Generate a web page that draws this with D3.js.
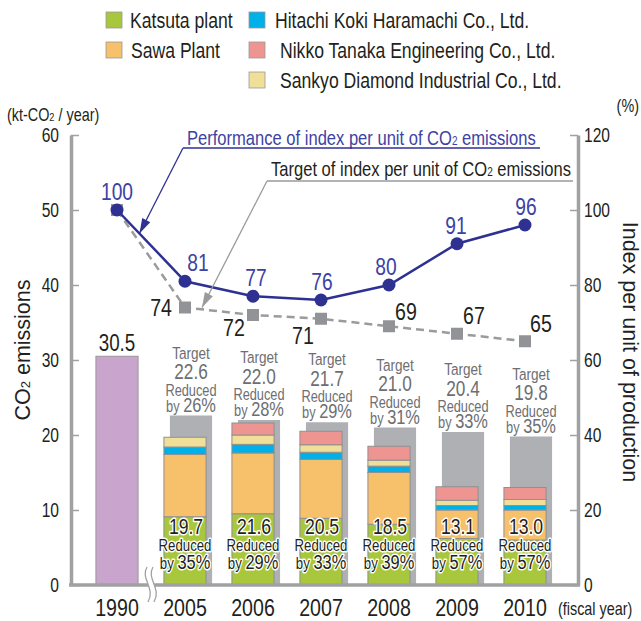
<!DOCTYPE html>
<html><head><meta charset="utf-8">
<script src="https://cdn.jsdelivr.net/npm/d3@7"></script>
<style>
body{margin:0;background:#fff;}
svg{display:block;font-family:"Liberation Sans",Arial,sans-serif;}
</style></head><body>
<svg id="c" width="641" height="621"></svg>
<script>
// ---------- data ----------
const years = ["1990","2005","2006","2007","2008","2009","2010"];
const stackYears = ["2005","2006","2007","2008","2009","2010"];
const base1990 = 30.5;
const katsuta = [9.1, 9.5, 8.9, 8.1, 6.2, 6.0];
const sawa    = [8.3, 8.1, 7.85, 6.9, 3.8, 4.0];
const hitachi = [1.0, 1.15, 0.95, 0.85, 0.6, 0.6];
const sankyo  = [1.3, 1.25, 1.0, 0.8, 0.7, 0.8];
const nikko   = [0, 1.6, 1.8, 1.85, 1.8, 1.6];
const totals  = [19.7, 21.6, 20.5, 18.5, 13.1, 13.0];
const reducedPct = [35, 29, 33, 39, 57, 57];
const targets = [22.6, 22.0, 21.7, 21.0, 20.4, 19.8];
const targetPct = [26, 28, 29, 31, 33, 35];
const perfIndex = [100, 81, 77, 76, 80, 91, 96];
const targetIndex = [100, 74, 72, 71, 69, 67, 65];
const leftTicks = [0, 10, 20, 30, 40, 50, 60];
const rightTicks = [0, 20, 40, 60, 80, 100, 120];
const seriesNames = ["Katsuta plant","Sawa Plant","Hitachi Koki Haramachi Co., Ltd.","Sankyo Diamond Industrial Co., Ltd.","Nikko Tanaka Engineering Co., Ltd."];
const seriesKeys = ["katsuta","sawa","hitachi","sankyo","nikko"];

// ---------- styles ----------
const SX = 0.8; // condensed look
const colors = {katsuta:"#a8c73c", sawa:"#f7c06b", hitachi:"#00b0e8", sankyo:"#efdf98", nikko:"#ee9591"};
const purple = "#c9a4cd", grayBar = "#aeb0b3", axisCol = "#a0a1a3";
const blueLine = "#2e3192", blueText = "#3d42a3", sqCol = "#929396", tgtText = "#6d6e71", ink = "#231f20";

const svg = d3.select("#c");
const x = d3.scaleBand().domain(years).range([83, 559]).paddingInner(0.38).paddingOuter(0.19);
const bw = x.bandwidth();
const cx = d => x(d) + bw / 2;
const yL = d3.scaleLinear().domain([0, 60]).range([585, 135]);
const yR = d3.scaleLinear().domain([0, 120]).range([585, 135]);

function ctext(parent, px, py, size, anchor) {
  return parent.append("text").attr("transform", `translate(${px},${py}) scale(${SX},1)`)
    .attr("font-size", size).attr("text-anchor", anchor || "start");
}
function addCO2(t, pre, post, subSize) {
  t.append("tspan").text(pre);
  t.append("tspan").attr("font-size", subSize).text("2");
  t.append("tspan").text(post);
  return t;
}

// ---------- legend ----------
const legendItems = [
  {k:"katsuta", col:0, row:0}, {k:"sawa", col:0, row:1},
  {k:"hitachi", col:1, row:0}, {k:"nikko", col:1, row:1}, {k:"sankyo", col:1, row:2}
];
const colX = [106, 249], rowY = [12, 42, 72], txtOff = [[24, 25, 0], [26, 31, 31]];
const lg = svg.append("g").attr("class","legend");
legendItems.forEach(it => {
  const nm = seriesNames[seriesKeys.indexOf(it.k)];
  lg.append("rect").attr("x", colX[it.col]).attr("y", rowY[it.row]).attr("width", 16).attr("height", 16)
    .attr("fill", colors[it.k]).attr("stroke", "#9a9a9a").attr("stroke-width", 0.8);
  ctext(lg, colX[it.col] + txtOff[it.col][it.row], rowY[it.row] + 15.5, 22).attr("fill", ink).text(nm);
});

// ---------- unit labels ----------
addCO2(ctext(svg, 7, 121, 18).attr("fill", ink), "(kt-CO", " / year)", 11.5);
ctext(svg, 639, 112, 18, "end").attr("fill", ink).text("(%)");

// ---------- target (gray) bars ----------
svg.append("g").selectAll("rect").data(stackYears).join("rect")
  .attr("x", d => x(d) + 6).attr("width", bw)
  .attr("y", (d, i) => yL(targets[i])).attr("height", (d, i) => yL(0) - yL(targets[i]))
  .attr("fill", grayBar);

// ---------- 1990 bar ----------
svg.append("rect").attr("x", x("1990")).attr("width", bw).attr("y", yL(base1990)).attr("height", yL(0) - yL(base1990))
  .attr("fill", purple).attr("stroke", "#999").attr("stroke-width", 1);
ctext(svg, cx("1990"), yL(base1990) - 5, 23.5, "middle").attr("fill", ink).text(base1990.toFixed(1));

// ---------- stacked bars ----------
const table = stackYears.map((y, i) => ({year: y, katsuta: katsuta[i], sawa: sawa[i], hitachi: hitachi[i], sankyo: sankyo[i], nikko: nikko[i]}));
const stacked = d3.stack().keys(seriesKeys)(table);
svg.append("g").selectAll("g").data(stacked).join("g").attr("fill", s => colors[s.key])
  .selectAll("rect").data(s => s.filter(d => d[1] - d[0] > 0)).join("rect")
  .attr("x", d => x(d.data.year)).attr("width", bw)
  .attr("y", d => yL(d[1])).attr("height", d => yL(d[0]) - yL(d[1]))
  .attr("stroke", "#8f9092").attr("stroke-width", 1);

// inner labels
const inner = svg.append("g").attr("fill", ink).attr("stroke", "#fff").attr("stroke-width", 3)
  .attr("paint-order", "stroke").attr("stroke-linejoin", "round");
stackYears.forEach((y, i) => {
  ctext(inner, cx(y) + 1, 534, 22, "middle").text(totals[i].toFixed(1));
  ctext(inner, cx(y), 550.5, 16.5, "middle").text("Reduced");
  const t = ctext(inner, cx(y), 568.5, 16.5, "middle");
  t.append("tspan").text("by ");
  t.append("tspan").attr("font-size", 20.5).text(reducedPct[i] + "%");
});

// target labels
const tg = svg.append("g").attr("fill", tgtText);
stackYears.forEach((y, i) => {
  const top = yL(targets[i]);
  const c = x(y) + 6 + bw / 2;
  ctext(tg, c, top - 57, 17, "middle").text("Target");
  ctext(tg, c, top - 36.5, 21.5, "middle").text(targets[i].toFixed(1));
  ctext(tg, c, top - 20, 16, "middle").text("Reduced");
  const t = ctext(tg, c, top - 4, 16, "middle");
  t.append("tspan").text("by ");
  t.append("tspan").attr("font-size", 20.5).text(targetPct[i] + "%");
});

// ---------- axes ----------
const axL = svg.append("g").attr("transform", "translate(71,0)")
  .call(d3.axisLeft(yL).tickValues(leftTicks).tickSize(-8).tickSizeOuter(0).tickPadding(12));
const axR = svg.append("g").attr("transform", "translate(578,0)")
  .call(d3.axisRight(yR).tickValues(rightTicks).tickSize(-8).tickSizeOuter(0).tickPadding(6));
[axL, axR].forEach(a => {
  a.select(".domain").attr("stroke", axisCol).attr("stroke-width", 3.5);
  a.selectAll(".tick line").attr("stroke", axisCol).attr("stroke-width", 1.5);
  a.selectAll(".tick text").attr("font-size", 19.5).attr("fill", ink).attr("font-family", null)
    .attr("x", function() { return +d3.select(this).attr("x") / SX; })
    .attr("transform", `scale(${SX},1)`);
});
svg.append("line").attr("x1", 69).attr("x2", 580).attr("y1", yL(0)).attr("y2", yL(0))
  .attr("stroke", axisCol).attr("stroke-width", 3.5);
const axB = svg.append("g").attr("transform", `translate(0,${yL(0)})`)
  .call(d3.axisBottom(x).tickSize(0).tickPadding(14));
axB.select(".domain").remove();
axB.selectAll(".tick text").attr("font-size", 24.5).attr("fill", ink).attr("font-family", null)
  .attr("transform", `scale(${SX},1)`);
ctext(svg, 558, 615, 18).attr("fill", ink).text("(fiscal year)");

// break symbol
const xm = (x("1990") + bw + x("2005")) / 2;
const bY0 = 567, bY1 = 602;
const curve = dx => `M${xm - 4 + dx},${bY0} C${xm - 11 + dx},${bY0 + 12} ${xm + 5 + dx},${bY1 - 14} ${xm - 3 + dx},${bY1}`;
svg.append("path").attr("d", `${curve(0)} L${xm + 3},${bY1} C${xm + 11},${bY1 - 14} ${xm - 5},${bY0 + 12} ${xm + 2},${bY0} Z`)
  .attr("fill", "#fff").attr("stroke", "none");
[0, 6].forEach(dx => svg.append("path").attr("d", curve(dx)).attr("fill", "none").attr("stroke", axisCol).attr("stroke-width", 1.3));

// axis titles
const tL = svg.append("text").attr("transform", `translate(30,350) rotate(-90)`).attr("text-anchor", "middle")
  .attr("font-size", 21.5).attr("fill", ink);
addCO2(tL, "CO", " emissions", 13);
svg.append("text").attr("transform", `translate(623,352) rotate(90)`).attr("text-anchor", "middle")
  .attr("font-size", 21.5).attr("fill", ink).text("Index per unit of production");

// ---------- index lines ----------
const idxLine = d3.line().x((d, i) => cx(years[i])).y(d => yR(d));
svg.append("path").datum(targetIndex).attr("d", idxLine).attr("fill", "none")
  .attr("stroke", "#9a9b9d").attr("stroke-width", 2.5).attr("stroke-dasharray", "8,5");
svg.append("g").selectAll("rect").data(targetIndex).join("rect")
  .attr("x", (d, i) => cx(years[i]) - 6).attr("y", d => yR(d) - 6).attr("width", 12).attr("height", 12).attr("fill", sqCol);
svg.append("path").datum(perfIndex).attr("d", idxLine).attr("fill", "none").attr("stroke", blueLine).attr("stroke-width", 2.5);
svg.append("g").selectAll("circle").data(perfIndex).join("circle")
  .attr("cx", (d, i) => cx(years[i])).attr("cy", d => yR(d)).attr("r", 6.5).attr("fill", blueLine);

// value labels
const perfDx = [0, 13, 3, 1, -3, -1, 1];
const pl = svg.append("g").attr("fill", blueText);
perfIndex.forEach((v, i) => ctext(pl, cx(years[i]) + perfDx[i], yR(v) - 10, 24, "middle").text(v));
const tgtPos = [null, [-13, 8, "end"], [-19, 21, "middle"], [-18, 25, "middle"], [17, -6, "middle"], [17, -10, "middle"], [16, -9, "middle"]];
const tl = svg.append("g").attr("fill", ink);
targetIndex.forEach((v, i) => {
  if (i === 0) return;
  ctext(tl, cx(years[i]) + tgtPos[i][0], yR(v) + tgtPos[i][1], 24.5, tgtPos[i][2]).text(v);
});

// ---------- annotations ----------
function arrow(x0, y0, x1, y1, col, lw) {
  svg.append("line").attr("x1", x0).attr("y1", y0).attr("x2", x1).attr("y2", y1).attr("stroke", col).attr("stroke-width", lw);
  const ang = Math.atan2(y1 - y0, x1 - x0), L = 15, W = 4.5;
  const bx = x1 - L * Math.cos(ang), by = y1 - L * Math.sin(ang);
  const px = -Math.sin(ang) * W, py = Math.cos(ang) * W;
  svg.append("path").attr("d", `M${x1},${y1} L${bx + px},${by + py} L${bx - px},${by - py} Z`).attr("fill", col);
}
addCO2(ctext(svg, 187, 145, 20.7).attr("fill", blueText), "Performance of index per unit of CO", " emissions", 12.5);
svg.append("line").attr("x1", 183).attr("x2", 540).attr("y1", 148).attr("y2", 148).attr("stroke", blueLine).attr("stroke-width", 1.3);
const t0 = 0.33;
arrow(183, 148, cx("1990") + (cx("2005") - cx("1990")) * t0, yR(perfIndex[0]) + (yR(perfIndex[1]) - yR(perfIndex[0])) * t0, blueLine, 1.3);
addCO2(ctext(svg, 271, 176, 20.7).attr("fill", ink), "Target of index per unit of CO", " emissions", 12.5);
svg.append("line").attr("x1", 267).attr("x2", 573).attr("y1", 181).attr("y2", 181).attr("stroke", "#999a9c").attr("stroke-width", 1.3);
arrow(267, 181, cx("2005") + 17, yR(targetIndex[1]), "#999a9c", 1.3);
</script></body></html>
